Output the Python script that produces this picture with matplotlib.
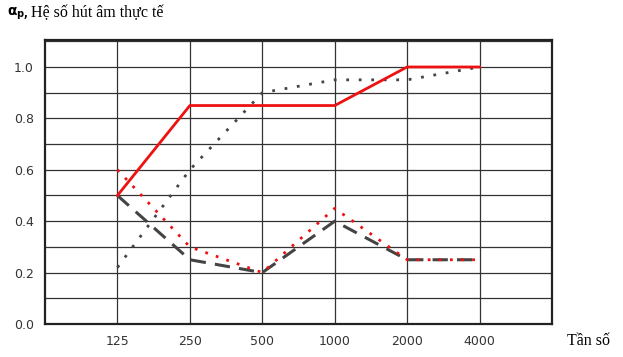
import numpy as np
import matplotlib.pyplot as plt

tan_so = ['125', '250', '500', '1000', '2000', '4000']
do_do_lien = [0.5, 0.85, 0.85, 0.85, 1.0, 1.0]
xam_cham = [0.22, 0.6, 0.9, 0.95, 0.95, 1.0]
do_cham = [0.6, 0.3, 0.2, 0.45, 0.25, 0.25]
xam_gach = [0.5, 0.25, 0.2, 0.4, 0.25, 0.25]

x = np.arange(1, len(tan_so) + 1)

fig = plt.figure(figsize=(6.23, 3.57), dpi=100)
ax = fig.add_axes([45/623, 33/357, 507/623, 284/357])

ax.plot(x, xam_gach, color='#444444', lw=2.2, ls=(0, (5, 3)), zorder=3)
ax.plot(x, xam_cham, color='#444444', lw=2.0, ls=(0, (1, 3.5)), zorder=3)
ax.plot(x, do_cham, color='#ee1111', lw=2.0, ls=(0, (1, 3)), zorder=4)
ax.plot(x, do_do_lien, color='#ee1111', lw=2.0, zorder=5)

ax.set_xlim(0, 7)
ax.set_ylim(0, 1.105)
ax.set_xticks(x)
ax.set_xticklabels(tan_so)
ax.set_yticks(np.arange(0, 1.01, 0.2))
ax.set_yticklabels([f'{v:.1f}' for v in np.arange(0, 1.01, 0.2)])
ax.set_yticks(np.arange(0, 1.11, 0.1), minor=True)
ax.grid(axis='x', color='#333333', lw=0.9, zorder=1)
ax.grid(axis='y', which='both', color='#333333', lw=0.9, zorder=1)
ax.tick_params(which='both', length=0, labelsize=9, colors='#333333', pad=8)
for s in ax.spines.values():
    s.set_linewidth(1.6)
    s.set_color('#222222')

fig.text(7/623, 1 - 14/357, r'$\mathbf{\alpha_{p,}}$', fontsize=10, va='center', ha='left')
fig.text(31/623, 1 - 13/357, 'Hệ số hút âm thực tế', fontsize=11.5,
         family='Liberation Serif', va='center', ha='left')
fig.text(567/623, 1 - 341/357, 'Tần số', fontsize=11.5,
         family='Liberation Serif', va='center', ha='left')

fig.savefig('out.png', dpi=100)
